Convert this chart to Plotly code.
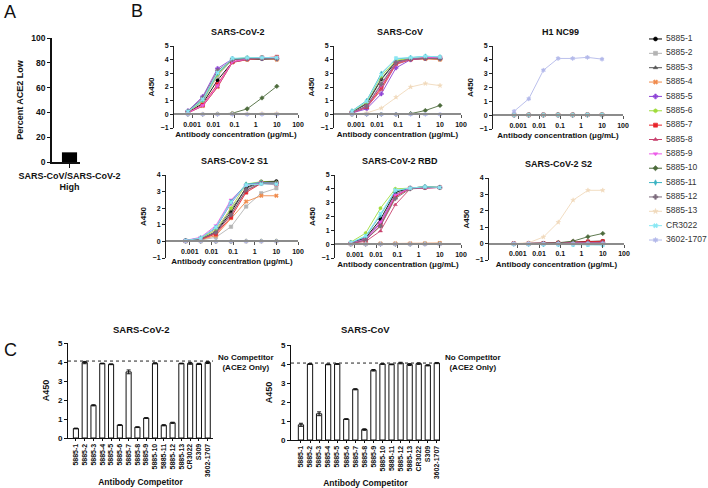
import plotly.graph_objects as go

W, H = 708, 488
FONT = "Liberation Sans, Arial, sans-serif"

# ---- data ----
conc = [0.00064, 0.0032, 0.016, 0.08, 0.4, 2, 10]
antibodies = ['5885-1', '5885-2', '5885-3', '5885-4', '5885-5', '5885-6', '5885-7',
              '5885-8', '5885-9', '5885-10', '5885-11', '5885-12', '5885-13',
              'CR3022', '3602-1707']
colors = ['#000000', '#b4b4b4', '#555555', '#f08a4b', '#8e44d6', '#a0dc3c', '#e8232a',
          '#c8426e', '#ec5ce8', '#4d6b3c', '#3bb3c3', '#7d6b7d', '#f0d9bb',
          '#8ae8f4', '#b3b9ea']
symbols = ['circle', 'square', 'triangle-up', 'x', 'cross', 'hexagon', 'square',
           'triangle-up', 'triangle-down', 'diamond', 'diamond-tall', 'cross', 'star',
           'x', 'hexagram']

sars2 = [
    [0.15, 0.80, 2.50, 3.82, 4.02, 4.05, 4.05],
    [0.18, 0.90, 2.80, 4.00, 4.08, 4.12, 4.10],
    [0.22, 1.10, 3.00, 4.00, 4.10, 4.12, 4.12],
    [0.12, 0.60, 2.00, 3.80, 4.00, 4.10, 4.00],
    [0.25, 1.30, 3.35, 4.05, 4.10, 4.10, 4.10],
    [0.18, 1.00, 2.90, 4.05, 4.15, 4.15, 4.15],
    [0.12, 0.70, 2.20, 3.85, 4.05, 4.15, 4.20],
    [0.10, 0.60, 2.00, 3.80, 4.00, 4.10, 4.10],
    [0.12, 0.65, 2.10, 3.85, 4.05, 4.15, 4.15],
    [0.00, 0.00, 0.02, 0.08, 0.40, 1.20, 2.05],
    [0.20, 1.05, 3.00, 4.05, 4.12, 4.15, 4.12],
    [0.22, 1.20, 3.20, 4.00, 4.08, 4.10, 4.05],
    [0.02, 0.02, 0.03, 0.04, 0.05, 0.06, 0.08],
    [0.20, 1.10, 3.05, 4.10, 4.15, 4.15, 4.15],
    [0.00, 0.00, 0.00, 0.00, 0.00, 0.00, 0.00],
]
sars = [
    [0.18, 0.75, 2.55, 3.85, 4.05, 4.10, 4.05],
    [0.15, 0.65, 2.30, 3.80, 4.05, 4.10, 4.10],
    [0.18, 0.80, 2.60, 3.90, 4.05, 4.10, 4.10],
    [0.12, 0.55, 1.90, 3.70, 4.00, 4.05, 4.00],
    [0.10, 0.40, 1.50, 3.40, 4.00, 4.10, 4.10],
    [0.20, 0.90, 2.80, 3.95, 4.10, 4.15, 4.15],
    [0.12, 0.55, 2.00, 3.75, 4.05, 4.15, 4.15],
    [0.10, 0.50, 1.80, 3.65, 4.00, 4.10, 4.10],
    [0.12, 0.60, 2.10, 3.80, 4.05, 4.15, 4.15],
    [0.00, 0.00, 0.00, 0.00, 0.05, 0.28, 0.65],
    [0.25, 1.00, 3.00, 4.05, 4.15, 4.25, 4.20],
    [0.15, 0.60, 2.20, 3.80, 4.05, 4.10, 4.05],
    [0.00, 0.10, 0.45, 1.25, 2.00, 2.25, 2.10],
    [0.22, 0.95, 2.90, 4.10, 4.15, 4.25, 4.20],
    [0.00, 0.00, 0.00, 0.00, 0.00, 0.00, 0.00],
]
h1nc99 = [[0.02, 0.02, 0.02, 0.02, 0.02, 0.03, 0.03]] * 14 + [
    [0.28, 1.18, 3.25, 4.10, 4.10, 4.18, 4.05]]
s1 = [
    [0.05, 0.12, 0.55, 1.75, 3.25, 3.60, 3.62],
    [0.02, 0.08, 0.25, 0.88, 2.10, 2.90, 3.20],
    [0.04, 0.15, 0.60, 1.90, 3.20, 3.55, 3.55],
    [0.03, 0.10, 0.35, 1.40, 2.40, 2.75, 2.75],
    [0.05, 0.20, 0.80, 2.30, 3.40, 3.55, 3.50],
    [0.05, 0.18, 0.70, 2.00, 3.45, 3.60, 3.55],
    [0.04, 0.12, 0.45, 1.45, 2.95, 3.50, 3.45],
    [0.04, 0.12, 0.50, 1.60, 3.05, 3.50, 3.40],
    [0.06, 0.25, 0.95, 2.50, 3.40, 3.55, 3.50],
    [0.00, 0.00, 0.00, 0.00, 0.02, 0.02, 0.02],
    [0.05, 0.20, 0.85, 2.40, 3.45, 3.55, 3.50],
    [0.04, 0.15, 0.55, 1.60, 3.10, 3.50, 3.50],
    [0.00, 0.00, 0.00, 0.00, 0.00, 0.00, 0.00],
    [0.05, 0.20, 0.85, 2.35, 3.40, 3.45, 3.45],
    [0.00, 0.00, 0.00, 0.00, 0.00, 0.00, 0.00],
]
rbd = [
    [0.10, 0.45, 1.80, 3.75, 4.05, 4.15, 4.10],
    [0.00, 0.02, 0.03, 0.03, 0.03, 0.03, 0.05],
    [0.08, 0.40, 1.60, 3.60, 4.05, 4.10, 4.10],
    [0.02, 0.03, 0.04, 0.05, 0.05, 0.05, 0.08],
    [0.08, 0.35, 1.50, 3.50, 4.05, 4.10, 4.10],
    [0.15, 0.80, 2.60, 4.00, 4.05, 4.15, 4.10],
    [0.05, 0.30, 1.35, 3.40, 4.05, 4.10, 4.10],
    [0.05, 0.20, 0.95, 2.85, 4.00, 4.05, 4.10],
    [0.08, 0.35, 1.60, 3.55, 4.05, 4.10, 4.10],
    [0.00, 0.00, 0.00, 0.00, 0.00, 0.02, 0.03],
    [0.10, 0.55, 2.10, 3.85, 4.05, 4.15, 4.10],
    [0.06, 0.30, 1.30, 3.30, 4.00, 4.10, 4.10],
    [0.02, 0.02, 0.02, 0.02, 0.02, 0.02, 0.02],
    [0.12, 0.60, 2.20, 3.90, 4.05, 4.15, 4.10],
    [0.00, 0.00, 0.00, 0.00, 0.00, 0.00, 0.00],
]
s2 = [
    [0.00, 0.00, 0.02, 0.05, 0.10, 0.13, 0.15],
    [0.00, 0.00, 0.00, 0.01, 0.02, 0.02, 0.03],
    [0.00, 0.00, 0.01, 0.02, 0.03, 0.04, 0.05],
    [0.00, 0.00, 0.00, 0.01, 0.02, 0.03, 0.03],
    [0.00, 0.00, 0.00, 0.01, 0.02, 0.02, 0.03],
    [0.00, 0.00, 0.00, 0.01, 0.02, 0.03, 0.04],
    [0.00, 0.00, 0.02, 0.05, 0.10, 0.12, 0.14],
    [0.00, 0.00, 0.01, 0.03, 0.05, 0.07, 0.08],
    [0.00, 0.00, 0.01, 0.02, 0.04, 0.05, 0.06],
    [0.00, 0.00, 0.02, 0.05, 0.15, 0.42, 0.62],
    [-0.02, -0.03, -0.04, -0.05, -0.06, -0.06, -0.07],
    [0.00, 0.00, 0.01, 0.02, 0.03, 0.04, 0.05],
    [0.00, 0.05, 0.40, 1.30, 2.65, 3.25, 3.25],
    [-0.03, -0.04, -0.05, -0.06, -0.07, -0.08, -0.08],
    [0.00, 0.00, 0.00, 0.00, 0.00, 0.00, 0.00],
]

competitors = ['5885-1', '5885-2', '5885-3', '5885-4', '5885-5', '5885-6', '5885-7',
               '5885-8', '5885-9', '5885-10', '5885-11', '5885-12', '5885-13',
               'CR3022', 'S309', '3602-1707']
comp_sars2 = [0.50, 3.97, 1.72, 3.92, 3.88, 0.68, 3.48, 0.57, 1.05, 3.93, 0.67, 0.80,
              3.92, 3.93, 3.90, 3.97]
comp_sars2_err = [0.02, 0.06, 0.03, 0.02, 0.02, 0.02, 0.10, 0.02, 0.02, 0.03, 0.03, 0.03,
                  0.02, 0.05, 0.03, 0.05]
comp_sars = [0.80, 4.00, 1.38, 3.98, 4.00, 1.10, 2.67, 0.55, 3.67, 4.00, 3.98, 4.05,
             3.97, 4.02, 3.93, 4.05]
comp_sars_err = [0.08, 0.02, 0.10, 0.02, 0.02, 0.02, 0.03, 0.04, 0.04, 0.02, 0.02, 0.04,
                 0.05, 0.04, 0.03, 0.03]
no_competitor = 4.05

ace2_group = ['SARS-CoV/SARS-CoV-2<br>High']
ace2_low_pct = [7.8]


def px(x):
    return x / W


def py(y):
    return 1 - y / H


fig = go.Figure()
layout = {}
annotations = []
shapes = []

# ---- panel B: titration curves ----
# (data, title, x px left/right, y px top/bottom, log x range, y range)
panels = [
    (sars2, 'SARS-CoV-2', (174, 298), (46, 128), [-3.85, 2], [-1, 5]),
    (sars, 'SARS-CoV', (334, 461), (46, 128), [-4.05, 2], [-1, 5]),
    (h1nc99, 'H1 NC99', (493, 623), (46, 129), [-4.2, 2], [-1, 5]),
    (s1, 'SARS-CoV-2 S1', (166, 298), (175, 258), [-4.1, 2], [-1, 4]),
    (rbd, 'SARS-CoV-2 RBD', (335, 461), (175, 258), [-3.94, 2], [-1, 5]),
    (s2, 'SARS-CoV-2 S2', (489, 624), (178, 260), [-4.36, 2], [-1, 4]),
]

for i, (vals, title, (x0, x1), (y0, y1), xr, yr) in enumerate(panels, start=1):
    sx = '' if i == 1 else str(i)
    for j, ab in enumerate(antibodies):
        fig.add_trace(go.Scatter(
            x=conc, y=vals[j], mode='lines+markers', name=ab, showlegend=False,
            line=dict(color=colors[j], width=0.9),
            marker=dict(color=colors[j], symbol=symbols[j], size=3.5,
                        line=dict(width=0.5, color=colors[j])),
            xaxis='x' + sx, yaxis='y' + sx))
    zero_px = y1 - (0 - yr[0]) / (yr[1] - yr[0]) * (y1 - y0)
    layout['xaxis' + sx] = dict(
        type='log', range=xr, domain=[px(x0), px(x1)], anchor='free',
        position=py(zero_px), automargin=False,
        tickvals=[0.001, 0.01, 0.1, 1, 10, 100],
        ticktext=['0.001', '0.01', '0.1', '1', '10', '100'],
        showline=True, linecolor='#8c8c8c', linewidth=2,
        ticks='outside', ticklen=3, tickcolor='#555', tickwidth=1,
        tickfont=dict(size=7, family=FONT, color='#111', weight='bold'),
        title=dict(text='Antibody concentration (μg/mL)', standoff=4,
                   font=dict(size=8, family=FONT, color='#111', weight='bold')),
        showgrid=False, zeroline=False)
    layout['yaxis' + sx] = dict(
        range=yr, domain=[py(y1), py(y0)], anchor='x' + sx, automargin=False,
        tickvals=list(range(yr[0], yr[1] + 1)),
        showline=True, linecolor='#222', linewidth=1,
        ticks='outside', ticklen=3, tickcolor='#222',
        tickfont=dict(size=7, family=FONT, color='#111', weight='bold'),
        title=dict(text='A450', standoff=4,
                   font=dict(size=8, family=FONT, color='#111', weight='bold')),
        showgrid=False, zeroline=False)
    annotations.append(dict(
        x=px((x0 + x1) / 2 + 2), y=py(y0 - 14), xref='paper', yref='paper',
        xanchor='center', yanchor='middle', text=title, showarrow=False,
        font=dict(size=9, family=FONT, color='#111', weight='bold')))

# ---- legend, drawn as its own small axis so the row spacing matches ----
leg_rows = list(range(len(antibodies)))
for j, ab in enumerate(antibodies):
    fig.add_trace(go.Scatter(
        x=[1, 7.5, 14], y=[j, j, j], mode='lines', showlegend=False,
        line=dict(color=colors[j], width=1), xaxis='x10', yaxis='y10'))
    fig.add_trace(go.Scatter(
        x=[7.5], y=[j], mode='markers', showlegend=False,
        marker=dict(color=colors[j], symbol=symbols[j], size=4,
                    line=dict(width=0.6, color=colors[j])),
        xaxis='x10', yaxis='y10'))
fig.add_trace(go.Scatter(
    x=[18] * len(antibodies), y=leg_rows, mode='text', text=antibodies,
    textposition='middle right', showlegend=False,
    textfont=dict(size=8.5, family=FONT, color='#333'),
    xaxis='x10', yaxis='y10'))
layout['xaxis10'] = dict(domain=[px(648), 1], range=[0, 60], anchor='y10',
                         visible=False, automargin=False)
layout['yaxis10'] = dict(domain=[py(247.2), py(31.8)], range=[14.5, -0.5],
                         anchor='x10', visible=False, automargin=False)

# ---- panel C: competition bars ----
bar_panels = [
    (comp_sars2, comp_sars2_err, 'SARS-CoV-2', (68, 213), (343, 438), [-0.9, 15.6]),
    (comp_sars, comp_sars_err, 'SARS-CoV', (291, 440), (345, 440), [-1.1, 15.35]),
]
for k, (vals, err, title, (x0, x1), (y0, y1), xr) in enumerate(bar_panels, start=7):
    sx = str(k)
    fig.add_trace(go.Bar(
        x=list(range(len(competitors))), y=vals, width=0.58,
        marker=dict(color='white', line=dict(color='#111', width=1)),
        error_y=dict(type='data', array=err, color='#111', thickness=1, width=2),
        showlegend=False, xaxis='x' + sx, yaxis='y' + sx))
    layout['xaxis' + sx] = dict(
        range=xr, domain=[px(x0), px(x1)], anchor='y' + sx, automargin=False,
        tickvals=list(range(len(competitors))), ticktext=competitors, tickangle=-90,
        showline=True, linecolor='#111', linewidth=1,
        ticks='outside', ticklen=2, tickcolor='#111',
        tickfont=dict(size=7, family=FONT, color='#111', weight='bold'),
        title=dict(text='Antibody Competitor', standoff=2,
                   font=dict(size=8.5, family=FONT, color='#111', weight='bold')),
        showgrid=False, zeroline=False)
    layout['yaxis' + sx] = dict(
        range=[0, 5], domain=[py(y1), py(y0)], anchor='x' + sx, automargin=False,
        tickvals=[0, 1, 2, 3, 4, 5],
        showline=True, linecolor='#111', linewidth=1,
        ticks='outside', ticklen=3, tickcolor='#111',
        tickfont=dict(size=8, family=FONT, color='#111', weight='bold'),
        title=dict(text='A450', standoff=6,
                   font=dict(size=9, family=FONT, color='#111', weight='bold')),
        showgrid=False, zeroline=False)
    shapes.append(dict(type='line', xref='x' + sx + ' domain', yref='y' + sx,
                       x0=0, x1=1, y0=no_competitor, y1=no_competitor,
                       line=dict(color='#222', width=1, dash='dot')))
    annotations.append(dict(
        x=px(x1 + 3), y=py(362), xref='paper', yref='paper',
        xanchor='left', yanchor='middle', text='No Competitor<br>(ACE2 Only)',
        showarrow=False, align='center',
        font=dict(size=8, family=FONT, color='#111', weight='bold')))
    annotations.append(dict(
        x=px((x0 + x1) / 2), y=py(329), xref='paper', yref='paper',
        xanchor='center', yanchor='middle', text=title, showarrow=False,
        font=dict(size=9.5, family=FONT, color='#111', weight='bold')))

# ---- panel A: percent ACE2 low ----
fig.add_trace(go.Bar(
    x=[0], y=ace2_low_pct, width=0.54, marker=dict(color='black', line=dict(width=0)),
    showlegend=False, xaxis='x9', yaxis='y9'))
layout['xaxis9'] = dict(
    range=[-0.625, 0.375], domain=[px(52), px(80)], anchor='y9', automargin=False,
    tickvals=[0], ticktext=ace2_group,
    showline=True, linecolor='#111', linewidth=1.5,
    ticks='outside', ticklen=4, tickcolor='#111',
    tickfont=dict(size=9, family=FONT, color='#111', weight='bold'),
    showgrid=False, zeroline=False)
layout['yaxis9'] = dict(
    range=[0, 100], domain=[py(162), py(38)], anchor='x9', automargin=False,
    tickvals=[0, 20, 40, 60, 80, 100],
    showline=True, linecolor='#111', linewidth=1.5,
    ticks='outside', ticklen=3, tickcolor='#111',
    tickfont=dict(size=8.5, family=FONT, color='#111', weight='bold'),
    title=dict(text='Percent ACE2 Low', standoff=6,
               font=dict(size=9, family=FONT, color='#111', weight='bold')),
    showgrid=False, zeroline=False)

# panel letters
for letter, lx, ly in [('A', 10, 12), ('B', 137, 11), ('C', 10, 350)]:
    annotations.append(dict(x=px(lx), y=py(ly), xref='paper', yref='paper',
                            xanchor='center', yanchor='middle',
                            text=letter, showarrow=False,
                            font=dict(size=18, family=FONT, color='#111')))

fig.update_layout(
    width=W, height=H, margin=dict(l=0, r=0, t=0, b=0, autoexpand=False),
    paper_bgcolor='white', plot_bgcolor='white',
    showlegend=False,
    annotations=annotations, shapes=shapes,
    **layout)

# the page's default body margin would shift the whole figure by 8px
fig.write_html("out.html", config={'displayModeBar': False},
               post_script="document.body.style.margin='0';")
